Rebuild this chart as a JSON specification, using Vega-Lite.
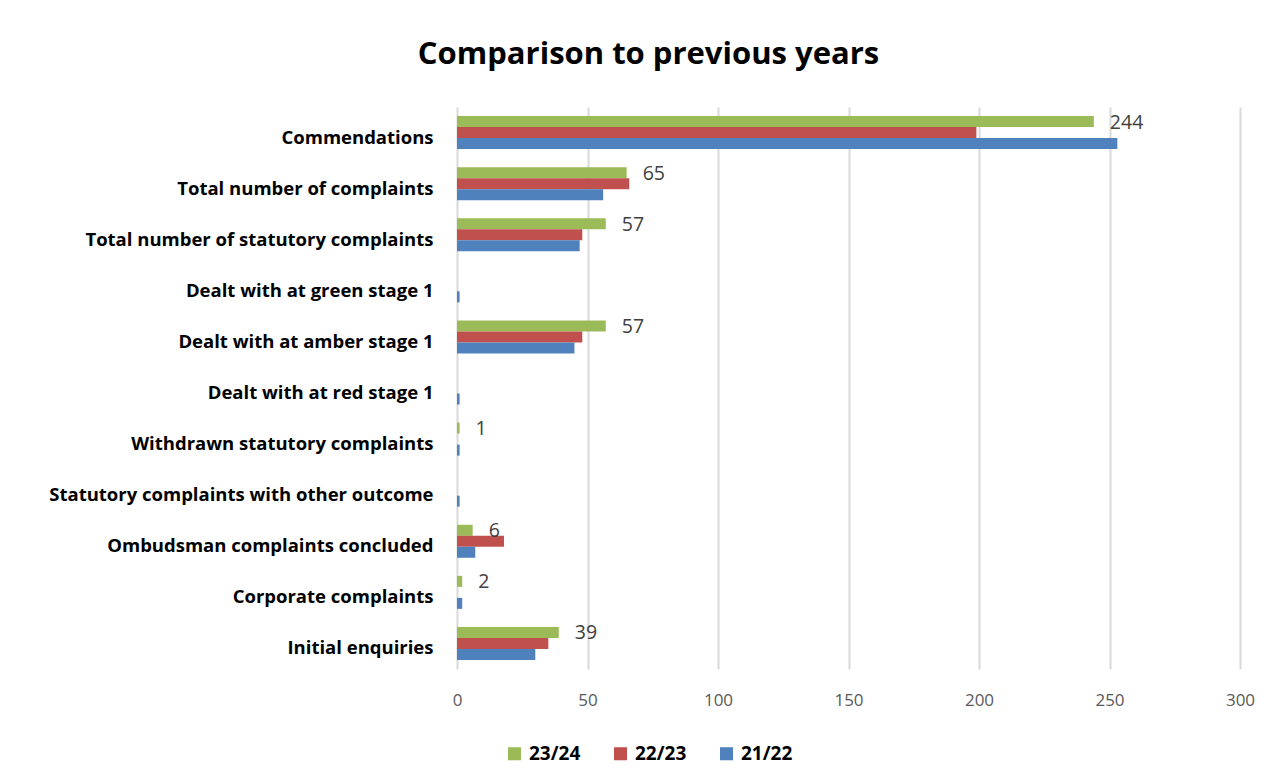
{
  "$schema": "https://vega.github.io/schema/vega-lite/v6.json",
  "autosize": "none",
  "width": 783,
  "height": 562,
  "padding": {"left": 457, "top": 107, "right": 46, "bottom": 115},
  "background": "white",
  "config": {"view": {"stroke": null}},
  "title": {
    "text": "Comparison to previous years",
    "anchor": "middle",
    "frame": "group",
    "dx": -200,
    "offset": 36,
    "font": "Open Sans",
    "fontSize": 31,
    "fontWeight": "bold",
    "color": "#000000"
  },
  "data": {
    "values": [
      {"cat": "Commendations", "year": "23/24", "v": 244},
      {"cat": "Commendations", "year": "22/23", "v": 199},
      {"cat": "Commendations", "year": "21/22", "v": 253},
      {"cat": "Total number of complaints", "year": "23/24", "v": 65},
      {"cat": "Total number of complaints", "year": "22/23", "v": 66},
      {"cat": "Total number of complaints", "year": "21/22", "v": 56},
      {"cat": "Total number of statutory complaints", "year": "23/24", "v": 57},
      {"cat": "Total number of statutory complaints", "year": "22/23", "v": 48},
      {"cat": "Total number of statutory complaints", "year": "21/22", "v": 47},
      {"cat": "Dealt with at green stage 1", "year": "21/22", "v": 1},
      {"cat": "Dealt with at amber stage 1", "year": "23/24", "v": 57},
      {"cat": "Dealt with at amber stage 1", "year": "22/23", "v": 48},
      {"cat": "Dealt with at amber stage 1", "year": "21/22", "v": 45},
      {"cat": "Dealt with at red stage 1", "year": "21/22", "v": 1},
      {"cat": "Withdrawn statutory complaints", "year": "23/24", "v": 1},
      {"cat": "Withdrawn statutory complaints", "year": "21/22", "v": 1},
      {"cat": "Statutory complaints with other outcome", "year": "21/22", "v": 1},
      {"cat": "Ombudsman complaints concluded", "year": "23/24", "v": 6},
      {"cat": "Ombudsman complaints concluded", "year": "22/23", "v": 18},
      {"cat": "Ombudsman complaints concluded", "year": "21/22", "v": 7},
      {"cat": "Corporate complaints", "year": "23/24", "v": 2},
      {"cat": "Corporate complaints", "year": "21/22", "v": 2},
      {"cat": "Initial enquiries", "year": "23/24", "v": 39},
      {"cat": "Initial enquiries", "year": "22/23", "v": 35},
      {"cat": "Initial enquiries", "year": "21/22", "v": 30}
    ]
  },
  "encoding": {
    "y": {
      "field": "cat",
      "type": "nominal",
      "sort": null,
      "scale": {
        "domain": ["Commendations", "Total number of complaints", "Total number of statutory complaints", "Dealt with at green stage 1", "Dealt with at amber stage 1", "Dealt with at red stage 1", "Withdrawn statutory complaints", "Statutory complaints with other outcome", "Ombudsman complaints concluded", "Corporate complaints", "Initial enquiries"],
        "paddingInner": 0.354,
        "paddingOuter": 0.177
      },
      "axis": {
        "title": null,
        "ticks": false,
        "domain": false,
        "labelFont": "Open Sans",
        "labelFontSize": 18.5,
        "labelFontWeight": "bold",
        "labelColor": "#000000",
        "labelPadding": 24,
        "labelOffset": 5,
        "labelLimit": 450
      }
    },
    "yOffset": {
      "field": "year",
      "type": "nominal",
      "scale": {"domain": ["23/24", "22/23", "21/22"], "paddingInner": 0, "paddingOuter": 0}
    },
    "x": {
      "field": "v",
      "type": "quantitative",
      "scale": {"domain": [0, 300], "nice": false},
      "axis": {
        "title": null,
        "values": [0, 50, 100, 150, 200, 250, 300],
        "ticks": false,
        "domain": false,
        "grid": true,
        "gridColor": "#d9d9d9",
        "gridWidth": 2,
        "labelFlush": false,
        "labelFont": "Open Sans",
        "labelFontSize": 17,
        "labelColor": "#595959",
        "labelPadding": 23
      }
    }
  },
  "layer": [
    {
      "mark": {"type": "bar"},
      "encoding": {
        "color": {
          "field": "year",
          "type": "nominal",
          "scale": {"domain": ["23/24", "22/23", "21/22"], "range": ["#9bbb59", "#c0504d", "#4f81bd"]},
          "legend": {
            "title": null,
            "orient": "none",
            "direction": "horizontal",
            "legendX": 48,
            "legendY": 637,
            "symbolType": "square",
            "symbolSize": 170,
            "symbolOpacity": 1,
            "symbolStrokeWidth": 0,
            "labelFont": "Open Sans",
            "labelFontSize": 19,
            "labelFontWeight": "bold",
            "labelColor": "#000000",
            "columnPadding": 30,
            "labelOffset": 5
          }
        }
      }
    },
    {
      "transform": [{"filter": "datum.year == '23/24'"}],
      "mark": {"type": "text", "align": "left", "baseline": "middle", "dx": 16, "dy": 1, "font": "Open Sans", "fontSize": 19.5, "color": "#404040"},
      "encoding": {"text": {"field": "v", "type": "quantitative"}}
    }
  ]
}
